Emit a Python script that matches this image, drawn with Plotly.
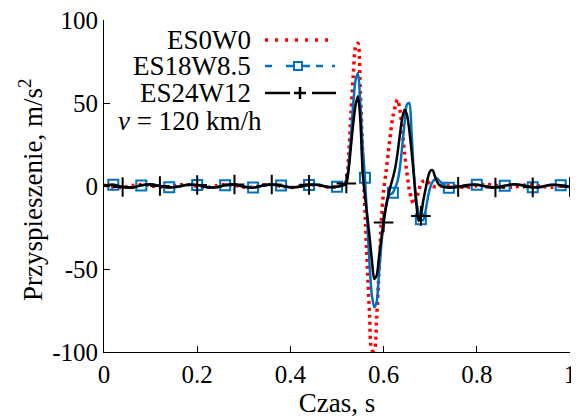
import numpy as np
import plotly.graph_objects as go

# czas, s
t = [0.00, 0.02, 0.04, 0.06, 0.08, 0.10, 0.12, 0.14, 0.16, 0.18, 0.20, 0.22, 0.24,
     0.26, 0.28, 0.30, 0.32, 0.34, 0.36, 0.38, 0.40, 0.42, 0.44, 0.46, 0.48, 0.50,
     0.510, 0.515, 0.520, 0.525, 0.530, 0.535, 0.540, 0.545, 0.550, 0.555,
     0.560, 0.565, 0.570, 0.575, 0.580, 0.585, 0.590, 0.595, 0.600, 0.605,
     0.610, 0.615, 0.620, 0.625, 0.630, 0.635, 0.640, 0.645, 0.650, 0.655,
     0.660, 0.665, 0.670, 0.675, 0.680, 0.685, 0.690, 0.695, 0.700, 0.705,
     0.710, 0.715, 0.720,
     0.74, 0.76, 0.78, 0.80, 0.82, 0.84, 0.86, 0.88, 0.90, 0.92, 0.94, 0.96, 0.98, 1.00]

# przyspieszenie, m/s2
es0w0 = [0.4, -0.6, -0.9, 0.3, 0.9, 0.2, -0.8, -0.5, 0.6, 0.8, -0.3, -0.9, 0.1,
         0.9, 0.4, -0.7, -0.7, 0.5, 0.9, -0.2, -0.9, -0.1, 0.8, 0.5, -0.6, -0.4,
         0.3, 0.8, 3, 18, 44, 67, 84, 86, 57, 20,
         -15, -48, -78, -99, -99, -80, -52, -22, -3, 8,
         20, 32, 42, 48, 52, 46, 34, 20, 8, -2,
         -8, -11, -8, -3, 1, 3, 3.5, 2.5, 1, 0,
         -0.5, -0.5, 0,
         0.5, -0.4, -0.9, 0.2, 0.9, 0.4, -0.7, -0.6, 0.5, 0.8, -0.2, -0.8, 0.1, 0.6]

es18w85 = [0.2, 0.7, -0.4, -0.9, 0.3, 0.9, 0.1, -0.8, -0.4, 0.7, 0.6, -0.6, -0.8,
           0.4, 0.9, -0.3, -0.9, 0.2, 0.8, 0.3, -0.7, -0.5, 0.6, 0.7, -0.5, -0.4,
           0.3, 0.8, 2.5, 12, 30, 50, 64, 68, 50, 24,
           5, -22, -48, -66, -73, -70, -53, -36, -22, -12,
           -6, -5, -4, -1, 3, 11, 24, 38, 49, 50,
           32, 8, -8, -16, -20, -20.5, -15, -7, -1, 2.5,
           4, 4.5, 3,
           -1.0, -0.4, 0.5, 0.8, -0.2, -0.8, 0.2, 0.9, 0.3, -0.7, -0.4, 0.6, 0.5, -0.4]

es24w12 = [0.3, 0.8, -0.6, -1.0, 0.4, 1.0, 0.0, -0.9, -0.3, 0.8, 0.6, -0.7, -0.8,
           0.5, 0.9, -0.4, -1.0, 0.2, 0.9, 0.2, -0.8, -0.5, 0.7, 0.6, -0.6, -0.5,
           0.2, 0.5, 1.5, 10, 24, 38, 49, 54, 40, 9,
           -6, -18, -31, -45, -56, -54, -43, -32, -22, -13,
           -6, 0, 5, 11, 20, 31, 41, 46, 43, 34,
           21, 6, -10, -21, -18, -9, -2, 5, 9, 9.5,
           6, 2.5, 0.5,
           -1.0, -0.5, 0.6, 0.8, -0.3, -0.9, 0.2, 1.0, 0.3, -0.8, -0.4, 0.7, 0.5, -0.5]

# znaczniki
t_squares = [0.02, 0.08, 0.14, 0.20, 0.26, 0.32, 0.38, 0.44, 0.50, 0.56, 0.62,
             0.68, 0.74, 0.80, 0.86, 0.92, 0.98]
t_crosses = [0.04, 0.12, 0.20, 0.28, 0.36, 0.44, 0.52, 0.60, 0.68, 0.76, 0.84,
             0.92, 1.00]

y_ticks = [-100, -50, 0, 50, 100]
y_tick_text = ["-100", "-50", "0", "50", "100"]

RED = "rgb(255,0,0)"
BLUE = "rgb(0,112,192)"
FONT = "Liberation Serif, Times New Roman, serif"

fig = go.Figure()

fig.add_trace(go.Scatter(
    x=t, y=es0w0, mode="lines", name="ES0W0",
    line=dict(color=RED, width=3.5, dash="3px,4px", shape="spline", smoothing=0.8),
))
fig.add_trace(go.Scatter(
    x=t, y=es18w85, mode="lines", name="ES18W8.5",
    line=dict(color=BLUE, width=2.5, shape="spline", smoothing=0.8),
))
fig.add_trace(go.Scatter(
    x=t_squares, y=np.interp(t_squares, t, es18w85), mode="markers", showlegend=False,
    marker=dict(symbol="square-open", size=10, color=BLUE, line=dict(width=2, color=BLUE)),
))
fig.add_trace(go.Scatter(
    x=t, y=es24w12, mode="lines", name="ES24W12",
    line=dict(color="black", width=2.5, shape="spline", smoothing=0.8),
))
fig.add_trace(go.Scatter(
    x=t_crosses, y=np.interp(t_crosses, t, es24w12), mode="markers", showlegend=False,
    marker=dict(symbol="cross-thin-open", size=14, color="black", line=dict(width=2, color="black")),
))

# the page body adds an 8px offset; plot area wanted at x 104..570, y 20..352
OFF = 8
W, H = 579 - OFF, 420 - OFF
L, R, T, B = 104, 570, 20, 352


def px(x):
    return (x - L) / (R - L)


def py(y):
    return (B - y) / (B - T)


labels = [("ES0W0", 40), ("ES18W8.5", 66), ("ES24W12", 93)]
for text, y in labels:
    fig.add_annotation(x=px(252), y=py(y), xref="paper", yref="paper", text=text,
                       showarrow=False, xanchor="right", yanchor="middle", borderpad=0,
                       font=dict(family=FONT, size=27, color="black"))
fig.add_annotation(x=px(190), y=py(121), xref="paper", yref="paper",
                   text="<i>v</i> = 120 km/h", showarrow=False, borderpad=0,
                   xanchor="center", yanchor="middle",
                   font=dict(family=FONT, size=27, color="black"))
# y axis title
fig.add_annotation(x=px(31), y=py(190), xref="paper", yref="paper",
                   text="Przyspieszenie, m/s<sup>2</sup>", textangle=-90, showarrow=False,
                   xanchor="center", yanchor="middle", borderpad=0,
                   font=dict(family=FONT, size=27, color="black"))

shapes = [
    # ES0W0 sample
    dict(type="line", x0=px(265), x1=px(332), y0=py(40), y1=py(40),
         line=dict(color=RED, width=3.5, dash="3px,7px")),
    # ES18W8.5 sample
    dict(type="line", x0=px(265), x1=px(272), y0=py(66), y1=py(66), line=dict(color=BLUE, width=2.5)),
    dict(type="line", x0=px(286), x1=px(310), y0=py(66), y1=py(66), line=dict(color=BLUE, width=2.5)),
    dict(type="rect", x0=px(294), x1=px(302), y0=py(70), y1=py(62), line=dict(color=BLUE, width=2),
         fillcolor="white"),
    dict(type="line", x0=px(316), x1=px(323), y0=py(66), y1=py(66), line=dict(color=BLUE, width=2.5)),
    dict(type="line", x0=px(332), x1=px(335), y0=py(66), y1=py(66), line=dict(color=BLUE, width=2.5)),
    # ES24W12 sample
    dict(type="line", x0=px(265), x1=px(290), y0=py(93), y1=py(93), line=dict(color="black", width=2.5)),
    dict(type="line", x0=px(294), x1=px(306), y0=py(93), y1=py(93), line=dict(color="black", width=2.5)),
    dict(type="line", x0=px(300), x1=px(300), y0=py(87), y1=py(99), line=dict(color="black", width=2.5)),
    dict(type="line", x0=px(312), x1=px(336), y0=py(93), y1=py(93), line=dict(color="black", width=2.5)),
]
for s in shapes:
    s.update(xref="paper", yref="paper")
fig.update_layout(shapes=shapes)

fig.update_xaxes(
    range=[0, 1], dtick=0.2, showline=True, linecolor="black", linewidth=1,
    ticks="inside", ticklen=6, tickcolor="black", showgrid=False, zeroline=False,
    automargin=False, ticklabeloverflow="allow",
    title=dict(text="Czas, s", standoff=0, font=dict(family=FONT, size=27, color="black")),
    tickfont=dict(family=FONT, size=25, color="black"),
)
fig.update_yaxes(
    range=[-100, 100], tickmode="array", tickvals=y_ticks, ticktext=y_tick_text,
    showline=True, linecolor="black", linewidth=1,
    ticks="inside", ticklen=6, tickcolor="black", showgrid=False, zeroline=False,
    automargin=False, ticklabeloverflow="allow",
    tickfont=dict(family=FONT, size=25, color="black"),
)
fig.update_layout(
    width=W, height=H,
    margin=dict(l=L - OFF, r=579 - R, t=T - OFF, b=420 - B),
    paper_bgcolor="white", plot_bgcolor="white",
    font=dict(family=FONT, size=25, color="black"),
    showlegend=False,
)

fig.write_html("out.html")
